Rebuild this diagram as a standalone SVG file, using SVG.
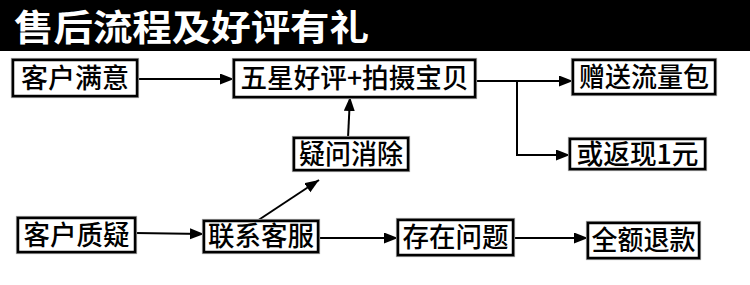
<svg xmlns="http://www.w3.org/2000/svg" width="750" height="285" viewBox="0 0 750 285">
  <defs>
    <marker id="arr" markerUnits="userSpaceOnUse" markerWidth="15" markerHeight="12" refX="14" refY="5.5" orient="auto">
      <path d="M0,0 L14,5.5 L0,11 z" fill="#000"/>
    </marker>
  </defs>
  <style>
    .box { fill: #fff; stroke: #000; stroke-width: 2.5; }
    .shadow { fill: none; stroke: #9a9a9a; stroke-width: 1.2; }
    .lbl { font-family: "Noto Sans CJK SC", "Noto Sans", sans-serif; font-size: 27px; font-weight: 500; fill: #000; text-anchor: middle; }
    .title { font-family: "Noto Sans CJK SC", sans-serif; font-size: 36px; font-weight: 700; fill: #fff; }
    .conn { stroke: #000; stroke-width: 2; fill: none; }
  </style>
  <rect x="0" y="0" width="750" height="285" fill="#fff"/>
  <g id="header">
    <rect x="0" y="0" width="750" height="51" fill="#000"/>
    <text class="title" x="14" y="41" textLength="355" lengthAdjust="spacingAndGlyphs">售后流程及好评有礼</text>
  </g>
  <g id="connectors">
    <line class="conn" x1="137" y1="79" x2="234" y2="79" marker-end="url(#arr)"/>
    <line class="conn" x1="475" y1="81" x2="573" y2="81" marker-end="url(#arr)"/>
    <polyline class="conn" points="517,81 517,155 570,155" marker-end="url(#arr)"/>
    <line class="conn" x1="348" y1="138" x2="350" y2="97" marker-end="url(#arr)"/>
    <line class="conn" x1="135" y1="233" x2="204" y2="234" marker-end="url(#arr)"/>
    <line class="conn" x1="257" y1="221" x2="319" y2="180" marker-end="url(#arr)"/>
    <line class="conn" x1="318" y1="238" x2="398" y2="238" marker-end="url(#arr)"/>
    <line class="conn" x1="513" y1="238" x2="588" y2="238" marker-end="url(#arr)"/>
  </g>
  <g id="n1">
    <rect class="shadow" x="11.5" y="58.5" width="127" height="39"/>
    <rect class="box" x="13" y="60" width="124" height="36"/>
    <text class="lbl" x="75" y="88" textLength="108" lengthAdjust="spacingAndGlyphs">客户满意</text>
  </g>
  <g id="n2">
    <rect class="shadow" x="232.5" y="58.5" width="244" height="40"/>
    <rect class="box" x="234" y="60" width="241" height="37"/>
    <text class="lbl" x="354.5" y="88" textLength="228" lengthAdjust="spacingAndGlyphs">五星好评+拍摄宝贝</text>
  </g>
  <g id="n3">
    <rect class="shadow" x="571.5" y="58.5" width="145" height="37"/>
    <rect class="box" x="573" y="60" width="142" height="34"/>
    <text class="lbl" x="644" y="87" textLength="130" lengthAdjust="spacingAndGlyphs">赠送流量包</text>
  </g>
  <g id="n4">
    <rect class="shadow" x="568.5" y="137.5" width="138" height="33"/>
    <rect class="box" x="570" y="139" width="135" height="30"/>
    <text class="lbl" x="637.5" y="164" textLength="122" lengthAdjust="spacingAndGlyphs">或返现1元</text>
  </g>
  <g id="n5">
    <rect class="shadow" x="292.5" y="136.5" width="117" height="35"/>
    <rect class="box" x="294" y="138" width="114" height="32"/>
    <text class="lbl" x="351" y="164" textLength="104" lengthAdjust="spacingAndGlyphs">疑问消除</text>
  </g>
  <g id="n6">
    <rect class="shadow" x="16.5" y="216.5" width="120" height="37"/>
    <rect class="box" x="18" y="218" width="117" height="34"/>
    <text class="lbl" x="76.5" y="245" textLength="106" lengthAdjust="spacingAndGlyphs">客户质疑</text>
  </g>
  <g id="n7">
    <rect class="shadow" x="202.5" y="219.5" width="117" height="34"/>
    <rect class="box" x="204" y="221" width="114" height="31"/>
    <text class="lbl" x="261" y="246" textLength="106" lengthAdjust="spacingAndGlyphs">联系客服</text>
  </g>
  <g id="n8">
    <rect class="shadow" x="396.5" y="218.5" width="118" height="38"/>
    <rect class="box" x="398" y="220" width="115" height="35"/>
    <text class="lbl" x="455.5" y="247" textLength="106" lengthAdjust="spacingAndGlyphs">存在问题</text>
  </g>
  <g id="n9">
    <rect class="shadow" x="586.5" y="221.5" width="114" height="38"/>
    <rect class="box" x="588" y="223" width="111" height="35"/>
    <text class="lbl" x="643.5" y="250" textLength="104" lengthAdjust="spacingAndGlyphs">全额退款</text>
  </g>
</svg>
